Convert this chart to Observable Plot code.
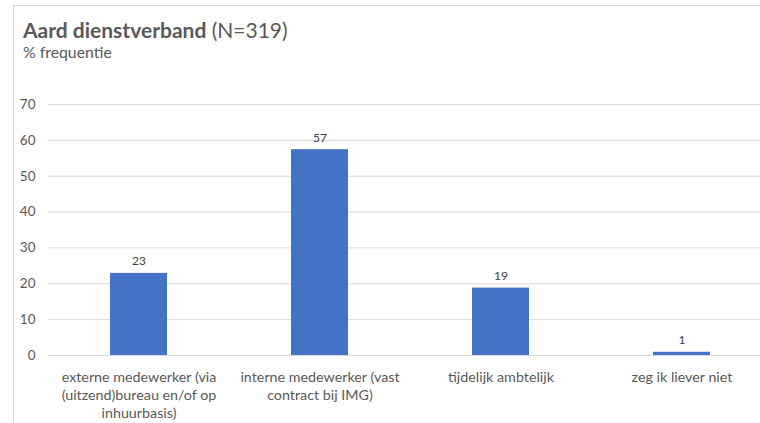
<!DOCTYPE html>
<html>
<head>
<meta charset="utf-8">
<script src="https://cdn.jsdelivr.net/npm/d3@7"></script>
<script src="https://cdn.jsdelivr.net/npm/@observablehq/plot@0.6"></script>
<style>
  html, body { margin: 0; padding: 0; background: #fff; overflow: hidden; }
  #wrap { position: relative; width: 760px; height: 423px; overflow: hidden; font-family: Lato, "Open Sans", sans-serif; }
  #frame { position: absolute; left: 13px; top: 5px; width: 800px; height: 500px; border-top: 1px solid #d9d9d9; border-left: 1px solid #d9d9d9; }
  #title { position: absolute; left: 23px; top: 17px; font-size: 21px; color: #595959; white-space: nowrap; }
  #title b { font-weight: 700; }
  #subtitle { position: absolute; left: 23px; top: 42px; font-size: 15.8px; color: #595959; }
  #chart { position: absolute; left: 0; top: 60px; width: 772px; }
  #chart svg { max-width: none !important; }
</style>
</head>
<body>
<div id="wrap">
  <div id="frame"></div>
  <div id="title"><b>Aard dienstverband</b> (N=319)</div>
  <div id="subtitle">% frequentie</div>
  <div id="chart"></div>
</div>
<script>
const categories = [
  "externe medewerker (via\n(uitzend)bureau en/of op\ninhuurbasis)",
  "interne medewerker (vast\ncontract bij IMG)",
  "tijdelijk ambtelijk",
  "zeg ik liever niet"
];
const values = [22.9, 57.4, 18.8, 0.9];
const labels = ["23", "57", "19", "1"];
const yTicks = [0, 10, 20, 30, 40, 50, 60, 70];

const data = categories.map((c, i) => ({cat: c, value: values[i], label: labels[i]}));

const chart = Plot.plot({
  width: 772,
  height: 363,
  marginLeft: 48,
  marginRight: 0,
  marginTop: 44,
  marginBottom: 68,
  style: {fontFamily: "Lato, 'Open Sans', sans-serif", fontSize: "12px", color: "#595959", background: "transparent", maxWidth: "none"},
  x: {domain: categories, paddingInner: 0.685, paddingOuter: 0.3425, round: false, label: null},
  y: {domain: [0, 70], ticks: yTicks, label: null},
  marks: [
    Plot.gridY(yTicks, {stroke: "#d9d9d9", strokeOpacity: 1, strokeWidth: 1}),
    Plot.barY(data, {x: "cat", y: "value", fill: "#4472C4"}),
    Plot.text(data, {x: "cat", y: "value", text: "label", lineAnchor: "bottom", dy: -8, fontSize: 12, fill: "#404040"}),
    Plot.axisY({ticks: yTicks, tickSize: 0, tickPadding: 13, fontSize: 13.5, fill: "#595959"}),
    Plot.axisX({tickSize: 0, tickPadding: 14, fontSize: 14.3, fill: "#595959", lineHeight: 1.26})
  ]
});
document.getElementById("chart").appendChild(chart);
</script>
</body>
</html>
